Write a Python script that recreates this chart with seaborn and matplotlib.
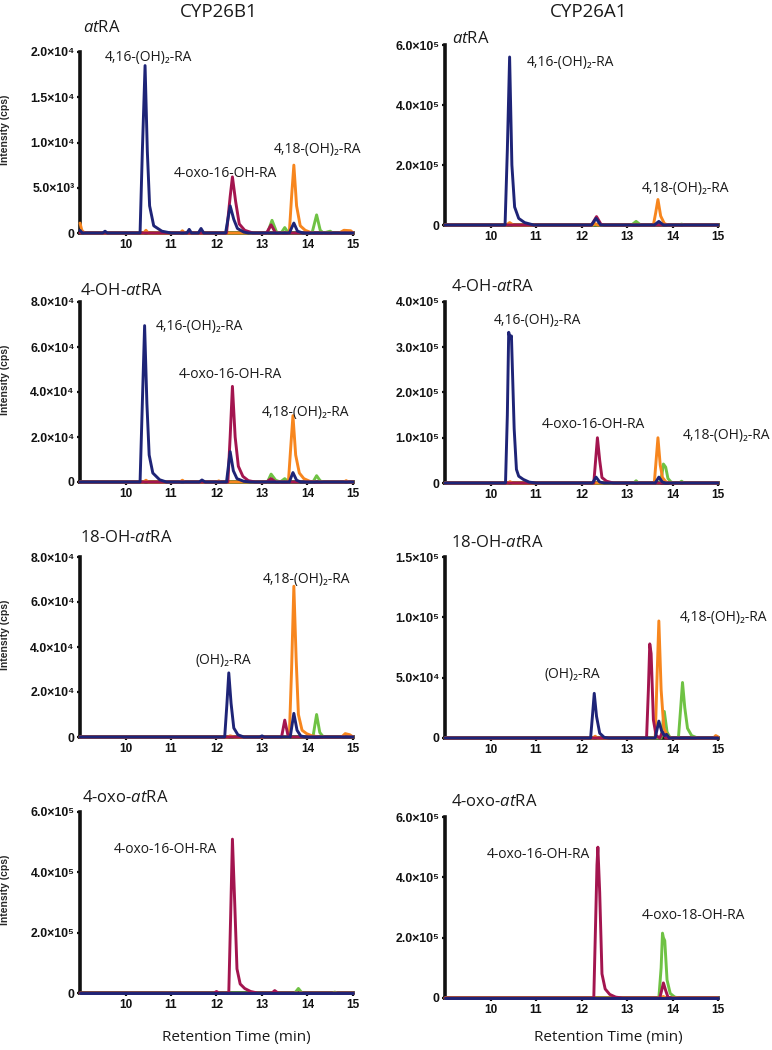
import matplotlib
matplotlib.use("Agg")
import matplotlib.pyplot as plt
import seaborn as sns
import pandas as pd

# retention time axis and trace colours
x_ticks = [10, 11, 12, 13, 14, 15]
trace_order = ["green", "orange", "maroon", "blue"]   # drawing order, blue on top
colors = {"blue": "#1e2477", "maroon": "#a3154f", "orange": "#f7861e", "green": "#6fc244"}

# ---- CYP26B1 / atRA ----
b1_atra_blue = [(9.0, 300), (9.05, 0), (9.5, 0), (9.55, 200), (9.6, 0), (10.32, 0), (10.37, 9000), (10.43, 18500),
                (10.48, 9000), (10.53, 3000), (10.62, 800), (10.8, 200), (11.0, 0), (11.35, 0), (11.4, 400), (11.45, 0),
                (11.6, 0), (11.66, 500), (11.72, 0), (12.2, 0), (12.3, 3000), (12.38, 1500), (12.46, 500),
                (12.6, 100), (12.7, 0), (13.6, 0), (13.7, 1100), (13.78, 200), (13.9, 0), (15.0, 0)]
b1_atra_maroon = [(9.0, 0), (12.22, 0), (12.3, 4000), (12.35, 6200), (12.42, 3500), (12.5, 1000), (12.62, 300),
                  (12.8, 0), (13.1, 0), (13.2, 900), (13.3, 0), (15.0, 0)]
b1_atra_orange = [(9.0, 1100), (9.04, 300), (9.1, 0), (10.4, 0), (10.45, 300), (10.5, 0), (11.2, 0), (11.25, 250),
                  (11.3, 0), (13.6, 0), (13.65, 4000), (13.7, 7500), (13.76, 3000), (13.84, 800), (13.95, 300),
                  (14.1, 0), (14.7, 0), (14.8, 300), (14.95, 250), (15.0, 0)]
b1_atra_green = [(9.0, 0), (13.12, 0), (13.22, 1400), (13.32, 100), (13.42, 0), (13.5, 600), (13.58, 0), (14.1, 0),
                 (14.2, 2000), (14.28, 300), (14.35, 0), (14.5, 200), (14.55, 0), (15.0, 0)]

# ---- CYP26A1 / atRA ----
a1_atra_blue = [(9.0, 0), (10.32, 0), (10.37, 2.5e5), (10.42, 5.6e5), (10.47, 2.0e5), (10.53, 6e4), (10.62, 2.2e4),
                (10.75, 8e3), (10.95, 0), (12.22, 0), (12.32, 2.2e4), (12.42, 0), (13.6, 0), (13.7, 1.2e4),
                (13.8, 0), (15.0, 0)]
a1_atra_maroon = [(9.0, 0), (12.22, 0), (12.33, 2.8e4), (12.43, 2e3), (12.5, 0), (15.0, 0)]
a1_atra_orange = [(9.0, 0), (10.35, 0), (10.42, 8e3), (10.5, 0), (12.25, 0), (12.3, 5e3), (12.35, 0), (13.58, 0),
                  (13.63, 4e4), (13.68, 8.5e4), (13.74, 3e4), (13.82, 5e3), (13.9, 0), (15.0, 0)]
a1_atra_green = [(9.0, 0), (13.1, 0), (13.2, 1.2e4), (13.3, 0), (14.15, 0), (14.2, 3e3), (14.25, 0), (15.0, 0)]

# ---- CYP26B1 / 4-OH-atRA ----
b1_4oh_blue = [(9.0, 0), (10.32, 0), (10.37, 3.5e4), (10.42, 6.95e4), (10.47, 3.5e4), (10.52, 1.2e4), (10.6, 4e3),
               (10.75, 1e3), (10.9, 0), (11.62, 0), (11.68, 900), (11.75, 0), (12.22, 0), (12.3, 1.35e4),
               (12.37, 5e3), (12.45, 1.5e3), (12.6, 300), (12.75, 0), (13.6, 0), (13.68, 4200), (13.76, 800),
               (13.85, 0), (15.0, 0)]
b1_4oh_maroon = [(9.0, 0), (12.25, 0), (12.3, 2e4), (12.35, 4.25e4), (12.41, 2e4), (12.48, 7e3), (12.58, 2.5e3),
                 (12.7, 600), (12.85, 0), (13.1, 0), (13.2, 1500), (13.3, 0), (15.0, 0)]
b1_4oh_orange = [(9.0, 0), (10.4, 0), (10.45, 800), (10.5, 0), (11.2, 0), (11.25, 800), (11.3, 0), (12.0, 0),
                 (12.05, 500), (12.1, 0), (13.58, 0), (13.63, 1.5e4), (13.68, 2.95e4), (13.74, 1.2e4), (13.82, 4e3),
                 (13.92, 1.5e3), (14.05, 300), (14.2, 0), (14.8, 0), (14.85, 600), (14.9, 0), (15.0, 0)]
b1_4oh_green = [(9.0, 0), (13.12, 0), (13.2, 3500), (13.3, 800), (13.4, 0), (13.5, 1500), (13.58, 0), (14.12, 0),
                (14.2, 2800), (14.28, 500), (14.35, 0), (15.0, 0)]

# ---- CYP26A1 / 4-OH-atRA ----
a1_4oh_blue = [(9.0, 0), (10.33, 0), (10.37, 1.5e5), (10.4, 3.33e5), (10.43, 3.2e5), (10.46, 3.25e5), (10.52, 1.2e5),
               (10.57, 3e4), (10.62, 1.5e4), (10.72, 8e3), (10.85, 2e3), (11.0, 0), (12.24, 0), (12.32, 1.3e4),
               (12.4, 2e3), (12.5, 0), (13.62, 0), (13.7, 1.3e4), (13.78, 2e3), (13.85, 0), (15.0, 0)]
a1_4oh_maroon = [(9.0, 0), (12.27, 0), (12.31, 5e4), (12.35, 1.0e5), (12.4, 5e4), (12.45, 1.2e4), (12.55, 4e3),
                 (12.7, 0), (15.0, 0)]
a1_4oh_orange = [(9.0, 0), (10.38, 0), (10.43, 3e3), (10.48, 0), (13.6, 0), (13.64, 5e4), (13.68, 1.0e5),
                 (13.73, 4e4), (13.78, 1.2e4), (13.86, 2e3), (13.95, 0), (15.0, 0)]
a1_4oh_green = [(9.0, 0), (13.15, 0), (13.2, 5e3), (13.25, 0), (13.72, 0), (13.77, 2e4), (13.8, 4.2e4), (13.85, 3.5e4),
                (13.9, 1e4), (13.97, 2e3), (14.05, 0), (14.15, 0), (14.2, 4e3), (14.25, 0), (15.0, 0)]

# ---- CYP26B1 / 18-OH-atRA ----
b1_18oh_blue = [(9.0, 0), (12.18, 0), (12.23, 1.5e4), (12.27, 2.85e4), (12.32, 1.5e4), (12.38, 4e3), (12.47, 1e3),
                (12.6, 0), (12.95, 0), (13.0, 500), (13.05, 0), (13.62, 0), (13.7, 1.05e4), (13.77, 3e3),
                (13.85, 500), (13.95, 0), (15.0, 0)]
b1_18oh_maroon = [(9.0, 0), (13.43, 0), (13.5, 7500), (13.57, 800), (13.62, 0), (15.0, 0)]
b1_18oh_orange = [(9.0, 0), (12.25, 0), (12.3, 500), (12.4, 0), (13.6, 0), (13.65, 3e4), (13.7, 6.7e4), (13.75, 3.5e4),
                  (13.8, 1e4), (13.88, 3e3), (13.98, 1.5e3), (14.1, 500), (14.3, 0), (14.75, 0), (14.83, 1500),
                  (14.93, 1000), (15.0, 0)]
b1_18oh_green = [(9.0, 0), (14.12, 0), (14.2, 1e4), (14.27, 2e3), (14.35, 0), (15.0, 0)]

# ---- CYP26A1 / 18-OH-atRA ----
a1_18oh_blue = [(9.0, 0), (12.2, 0), (12.24, 1.8e4), (12.28, 3.7e4), (12.33, 1.8e4), (12.4, 4e3), (12.5, 500),
                (12.6, 0), (13.62, 0), (13.7, 1.4e4), (13.76, 6e3), (13.82, 2e3), (13.87, 3e3), (13.93, 0), (15.0, 0)]
a1_18oh_maroon = [(9.0, 0), (13.43, 0), (13.47, 4e4), (13.5, 7.8e4), (13.53, 7e4), (13.58, 1.5e4), (13.64, 2e3),
                  (13.72, 0), (13.78, 5e3), (13.85, 0), (15.0, 0)]
a1_18oh_orange = [(9.0, 0), (12.25, 0), (12.3, 1.5e3), (12.35, 0), (13.62, 0), (13.66, 5e4), (13.7, 9.7e4),
                  (13.75, 4e4), (13.81, 8e3), (13.9, 1e3), (14.0, 0), (14.9, 0), (14.95, 2e3), (15.0, 1e3)]
a1_18oh_green = [(9.0, 0), (13.75, 0), (13.82, 2.2e4), (13.88, 5e3), (13.95, 0), (14.13, 0), (14.18, 2.5e4),
                 (14.22, 4.6e4), (14.27, 2.5e4), (14.33, 8e3), (14.42, 2e3), (14.55, 0), (15.0, 0)]

# ---- CYP26B1 / 4-oxo-atRA ----
b1_4oxo_blue = [(9.0, 0), (15.0, 0)]
b1_4oxo_maroon = [(9.0, 0), (11.95, 0), (12.0, 5e3), (12.05, 0), (12.27, 0), (12.31, 2.5e5), (12.35, 5.1e5),
                  (12.4, 3e5), (12.45, 8e4), (12.52, 3e4), (12.62, 1.5e4), (12.75, 5e3), (12.9, 0), (13.22, 0),
                  (13.28, 8e3), (13.35, 0), (15.0, 0)]
b1_4oxo_orange = [(9.0, 0), (15.0, 0)]
b1_4oxo_green = [(9.0, 0), (13.72, 0), (13.8, 1.5e4), (13.88, 0), (14.55, 0), (14.6, 3e3), (14.65, 0), (15.0, 0)]

# ---- CYP26A1 / 4-oxo-atRA ----
a1_4oxo_blue = [(9.0, 0), (15.0, 0)]
a1_4oxo_maroon = [(9.0, 0), (12.27, 0), (12.31, 2.5e5), (12.34, 4.4e5), (12.36, 5.0e5), (12.4, 3.5e5), (12.45, 8e4),
                  (12.52, 3e4), (12.62, 1.2e4), (12.75, 3e3), (12.9, 0), (13.72, 0), (13.77, 3e4), (13.8, 5e4),
                  (13.85, 2.5e4), (13.9, 3e3), (13.96, 0), (15.0, 0)]
a1_4oxo_orange = [(9.0, 0), (13.75, 0), (13.8, 5e3), (13.85, 0), (15.0, 0)]
a1_4oxo_green = [(9.0, 0), (13.7, 0), (13.75, 1e5), (13.78, 2.15e5), (13.8, 2.0e5), (13.83, 1.9e5), (13.88, 6e4),
                 (13.95, 1.5e4), (14.05, 3e3), (14.15, 0), (15.0, 0)]

# y ticks per panel
yt_b1_atra = [0, 5e3, 1e4, 1.5e4, 2e4]
yt_a1_atra = [0, 2e5, 4e5, 6e5]
yt_b1_4oh = [0, 2e4, 4e4, 6e4, 8e4]
yt_a1_4oh = [0, 1e5, 2e5, 3e5, 4e5]
yt_b1_18oh = [0, 2e4, 4e4, 6e4, 8e4]
yt_a1_18oh = [0, 5e4, 1e5, 1.5e5]
yt_b1_4oxo = [0, 2e5, 4e5, 6e5]
yt_a1_4oxo = [0, 2e5, 4e5, 6e5]

substrates = [r"$\mathit{at}$RA", r"4-OH-$\mathit{at}$RA", r"18-OH-$\mathit{at}$RA", r"4-oxo-$\mathit{at}$RA"]
enzymes = ["CYP26B1", "CYP26A1"]

# peak labels: (text, retention time, intensity)
lab_b1_atra = [("4,16-(OH)₂-RA", 10.5, 1.94e4), ("4-oxo-16-OH-RA", 12.19, 6.6e3), ("4,18-(OH)₂-RA", 14.23, 9.2e3)]
lab_a1_atra = [("4,16-(OH)₂-RA", 11.76, 5.43e5), ("4,18-(OH)₂-RA", 14.29, 1.23e5)]
lab_b1_4oh = [("4,16-(OH)₂-RA", 11.62, 6.89e4), ("4-oxo-16-OH-RA", 12.3, 4.76e4), ("4,18-(OH)₂-RA", 13.95, 3.1e4)]
lab_a1_4oh = [("4,16-(OH)₂-RA", 11.04, 3.6e5), ("4-oxo-16-OH-RA", 12.27, 1.3e5), ("4,18-(OH)₂-RA", 15.19, 1.06e5)]
lab_b1_18oh = [("4,18-(OH)₂-RA", 13.97, 6.98e4), ("(OH)₂-RA", 12.14, 3.38e4)]
lab_a1_18oh = [("4,18-(OH)₂-RA", 15.12, 1.0e5), ("(OH)₂-RA", 11.8, 5.3e4)]
lab_b1_4oxo = [("4-oxo-16-OH-RA", 10.87, 4.77e5)]
lab_a1_4oxo = [("4-oxo-16-OH-RA", 11.06, 4.77e5), ("4-oxo-18-OH-RA", 14.45, 2.72e5)]

sns.set_style("ticks")
plt.rcParams['font.family'] = ['Open Sans', 'DejaVu Sans']
plt.rcParams['mathtext.fontset'] = 'custom'
plt.rcParams['mathtext.rm'] = 'Open Sans'
plt.rcParams['mathtext.it'] = 'Open Sans:italic'

W, H = 772, 1050
fig = plt.figure(figsize=(W / 100, H / 100), dpi=100)
tick_font = ['Liberation Sans', 'DejaVu Sans']
sup = str.maketrans("0123456789", "⁰¹²³⁴⁵⁶⁷⁸⁹")


def sci(v):
    if v == 0:
        return "0"
    e = len(str(int(v))) - 1
    return f"{v / 10 ** e:.1f}×10" + str(e).translate(sup)


def make_df(traces):
    rows = []
    for name, pts in traces.items():
        for t, y in pts:
            rows.append({"trace": name, "time": t, "intensity": y})
    return pd.DataFrame(rows)


panels = [
    # traces, yticks, labels, axes box in px (left, top, right, bottom), title pos px
    ({"blue": b1_atra_blue, "maroon": b1_atra_maroon, "orange": b1_atra_orange, "green": b1_atra_green},
     yt_b1_atra, lab_b1_atra, (80, 52, 353, 233), (83, 28)),
    ({"blue": a1_atra_blue, "maroon": a1_atra_maroon, "orange": a1_atra_orange, "green": a1_atra_green},
     yt_a1_atra, lab_a1_atra, (445, 45, 718, 225), (452, 39)),
    ({"blue": b1_4oh_blue, "maroon": b1_4oh_maroon, "orange": b1_4oh_orange, "green": b1_4oh_green},
     yt_b1_4oh, lab_b1_4oh, (80, 302, 353, 482), (80, 291)),
    ({"blue": a1_4oh_blue, "maroon": a1_4oh_maroon, "orange": a1_4oh_orange, "green": a1_4oh_green},
     yt_a1_4oh, lab_a1_4oh, (445, 302, 718, 483), (451, 287)),
    ({"blue": b1_18oh_blue, "maroon": b1_18oh_maroon, "orange": b1_18oh_orange, "green": b1_18oh_green},
     yt_b1_18oh, lab_b1_18oh, (80, 557, 353, 737), (80, 538)),
    ({"blue": a1_18oh_blue, "maroon": a1_18oh_maroon, "orange": a1_18oh_orange, "green": a1_18oh_green},
     yt_a1_18oh, lab_a1_18oh, (445, 557, 718, 738), (451, 543)),
    ({"blue": b1_4oxo_blue, "maroon": b1_4oxo_maroon, "orange": b1_4oxo_orange, "green": b1_4oxo_green},
     yt_b1_4oxo, lab_b1_4oxo, (80, 812, 353, 993), (82, 798)),
    ({"blue": a1_4oxo_blue, "maroon": a1_4oxo_maroon, "orange": a1_4oxo_orange, "green": a1_4oxo_green},
     yt_a1_4oxo, lab_a1_4oxo, (445, 817, 718, 998), (451, 802)),
]

for i, (traces, yt, labels, box, tpos) in enumerate(panels):
    l, t, r, b = box
    ax = fig.add_axes([l / W, 1 - b / H, (r - l) / W, (b - t) / H])
    df = make_df(traces)
    sns.lineplot(data=df, x="time", y="intensity", hue="trace", hue_order=trace_order, palette=colors,
                 estimator=None, sort=False, legend=False, lw=2.1, ax=ax, zorder=3, clip_on=False)
    ax.set_xlim(9, 15)
    ax.set_ylim(0, yt[-1])
    ax.set_xticks(x_ticks)
    ax.set_xticklabels([str(v) for v in x_ticks])
    ax.set_yticks(yt)
    ax.set_yticklabels([sci(v) for v in yt])
    ax.tick_params(direction="out", length=2.5, width=1.6, labelsize=8.5, pad=1.5, colors="#111111")
    for lab in ax.get_xticklabels() + ax.get_yticklabels():
        lab.set_fontfamily(tick_font)
        lab.set_fontweight("bold")
    for lab in ax.get_yticklabels():
        lab.set_fontsize(8.8)
    sns.despine(ax=ax)
    for s in ["left", "bottom"]:
        ax.spines[s].set_linewidth(2.6)
        ax.spines[s].set_color("#111111")
    ax.set_xlabel("")
    if i % 2 == 0:
        ax.set_ylabel("Intensity (cps)", fontsize=7.5, fontweight="bold", family=tick_font)
        ax.yaxis.set_label_coords(-0.256, 0.57)
    else:
        ax.set_ylabel("")
    for txt, x, y in labels:
        ax.text(x, y, txt, ha="center", va="center", fontsize=10, color="#1a1a1a")
    fig.text(tpos[0] / W, 1 - tpos[1] / H, substrates[i // 2], ha="left", va="center",
             fontsize=12, color="#1a1a1a")

fig.text(219 / W, 1 - 12 / H, enzymes[0], ha="center", va="center", fontsize=13.5, color="#1a1a1a")
fig.text(589 / W, 1 - 12 / H, enzymes[1], ha="center", va="center", fontsize=13.5, color="#1a1a1a")
fig.text(236 / W, 1 - 1037 / H, "Retention Time (min)", ha="center", va="center", fontsize=11, color="#1a1a1a")
fig.text(608 / W, 1 - 1037 / H, "Retention Time (min)", ha="center", va="center", fontsize=11, color="#1a1a1a")

fig.savefig("out.png", dpi=100)
